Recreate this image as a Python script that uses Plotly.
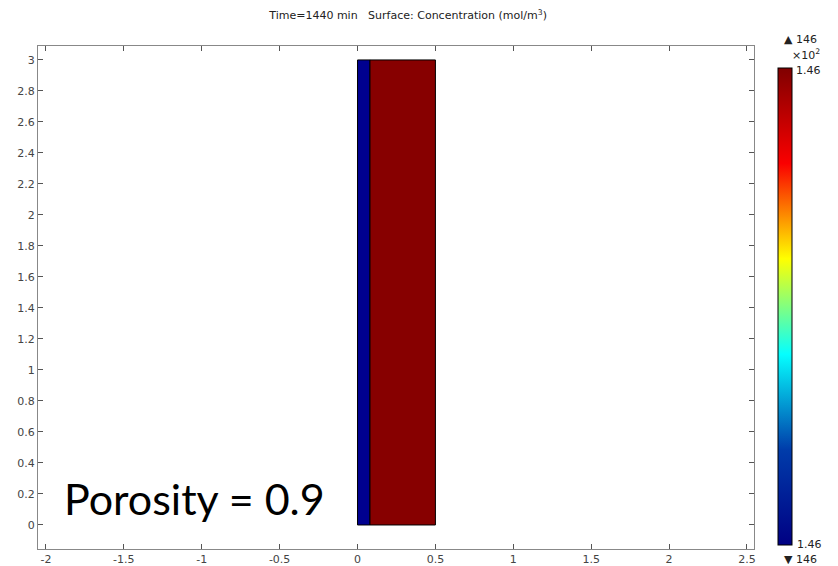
import plotly.graph_objects as go

# Data
region_names = ["Porous layer", "Bulk"]
region_x0 = [0.0, 0.08]
region_x1 = [0.08, 0.5]
region_y0 = [0.0, 0.0]
region_y1 = [3.0, 3.0]
region_conc = [145.9, 146.0]          # mol/m^3 (colour extremes)
region_colors = ["#00008f", "#870000"]

x_ticks = [-2, -1.5, -1, -0.5, 0, 0.5, 1, 1.5, 2, 2.5]
y_ticks = [0, 0.2, 0.4, 0.6, 0.8, 1, 1.2, 1.4, 1.6, 1.8, 2, 2.2, 2.4, 2.6, 2.8, 3]
cbar_min, cbar_max = 146, 146

fig = go.Figure()

for name, x0, x1, y0, y1, c in zip(region_names, region_x0, region_x1, region_y0, region_y1, region_colors):
    fig.add_trace(go.Scatter(
        x=[x0, x1, x1, x0, x0], y=[y0, y0, y1, y1, y0],
        mode="lines", fill="toself", fillcolor=c,
        line=dict(color="black", width=1), name=name, showlegend=False,
        hoverinfo="skip"))

# dummy trace for colorbar
fig.add_trace(go.Scatter(
    x=[None], y=[None], mode="markers",
    marker=dict(color=region_conc, colorscale="Jet", cmin=min(region_conc), cmax=max(region_conc),
                showscale=True,
                colorbar=dict(x=1.0335, xanchor="left", xref="paper", xpad=0, ypad=0,
                              y=0.482, yanchor="middle", len=0.948, lenmode="fraction",
                              thickness=14, outlinecolor="black", outlinewidth=1,
                              showticklabels=False, ticks="")),
    showlegend=False, hoverinfo="skip"))

axis_common = dict(showgrid=False, zeroline=False, ticks="inside", ticklen=5, automargin=False,
                   tickcolor="#555", linecolor="#888", linewidth=1, mirror="allticks",
                   showline=True, tickfont=dict(family="DejaVu Sans", size=11, color="#444"))

fig.update_layout(
    width=838, height=566,
    margin=dict(l=38, r=84, t=46, b=17, autoexpand=False),
    paper_bgcolor="white", plot_bgcolor="white",
    xaxis=dict(range=[-2.051, 2.545], tickvals=x_ticks,
               ticktext=[f"{v:g}" for v in x_ticks], **axis_common),
    yaxis=dict(range=[-0.155, 3.09], tickvals=y_ticks,
               ticktext=[f"{v:g}" for v in y_ticks], **axis_common),
    title=dict(text="Time=1440 min   Surface: Concentration (mol/m<sup>3</sup>)",
               x=0.487, xanchor="center", y=0.973, yanchor="middle",
               font=dict(family="DejaVu Sans", size=11, color="#222")),
)

ann_font = dict(family="DejaVu Sans", size=11, color="#222")
fig.add_annotation(text="▲ 146", xref="paper", yref="paper", x=1.039, y=1.012, xanchor="left",
                   yanchor="middle", showarrow=False, font=ann_font)
fig.add_annotation(text="×10<sup>2</sup>", xref="paper", yref="paper", x=1.052, y=0.967, xanchor="left",
                   yanchor="bottom", showarrow=False, font=ann_font, borderpad=0)
fig.add_annotation(text=f"{cbar_max/100:.2f}", xref="paper", yref="paper", x=1.057, y=0.966, xanchor="left",
                   yanchor="top", showarrow=False, font=ann_font, borderpad=0)
fig.add_annotation(text=f"{cbar_min/100:.2f}", xref="paper", yref="paper", x=1.057, y=0.008, xanchor="left",
                   yanchor="middle", showarrow=False, font=ann_font)
fig.add_annotation(text=f"▼ {cbar_min}", xref="paper", yref="paper", x=1.039, y=-0.02, xanchor="left",
                   yanchor="middle", showarrow=False, font=ann_font)

fig.add_annotation(text="Porosity = 0.9", x=-1.045, y=0.174, xref="x", yref="y",
                   showarrow=False, font=dict(family="Lato", size=43, color="black"))

fig.write_html("out.html")
